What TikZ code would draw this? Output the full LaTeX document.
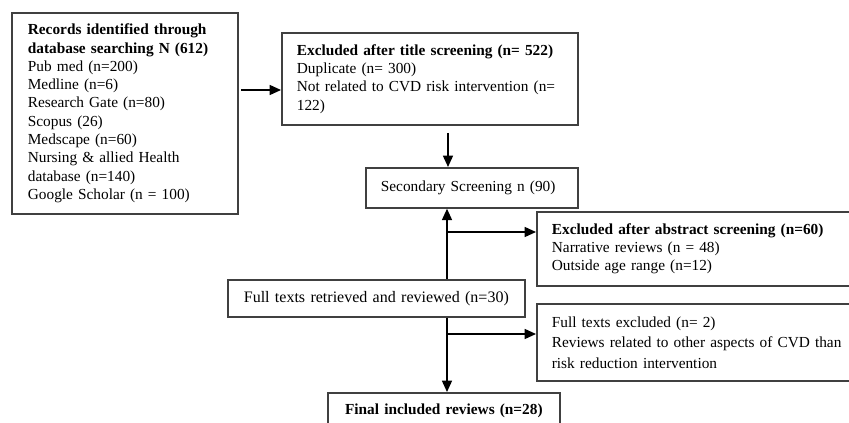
\documentclass[tikz,border=0pt]{standalone}
\usepackage{fontspec}
\setmainfont{Liberation Serif}
\usetikzlibrary{arrows.meta}
\begin{document}
\begin{tikzpicture}[
    x=0.75pt, y=-0.75pt,
    font=\fontsize{11.5}{13.7}\selectfont,
    box/.style={draw=black!75, line width=1.3pt, anchor=north west, align=left, inner ysep=0pt},
    arr/.style={line width=1.1pt, -{Triangle[length=8.5pt,width=7.5pt]}},
  ]
    \useasboundingbox (0,0) rectangle (849,423);
    \clip (0,0) rectangle (849,423);
    % search and first screening
    \node[box, text width=145.5pt, inner xsep=12pt, minimum height=150.75pt] (records) at (11,12)
      {\textbf{Records identified through}\\ \textbf{database searching N (612)}\\ Pub med (n=200)\\ Medline (n=6)\\
       Research Gate (n=80)\\ Scopus (26)\\ Medscape (n=60)\\ Nursing \& allied Health\\ database (n=140)\\
       Google Scholar (n = 100)};
    \node[box, text width=199.5pt, inner xsep=11.25pt, minimum height=69pt] (titleex) at (281,32)
      {\textbf{Excluded after title screening (n= 522)}\\ Duplicate (n= 300)\\
       Not related to CVD risk intervention (n=\\ 122)};
    \node[box, text width=136.5pt, inner xsep=11.25pt, minimum height=30pt] (second) at (365,167)
      {Secondary Screening n (90)};
    % abstract and full text screening
    \node[box, text width=228pt, inner xsep=11.25pt, minimum height=55.5pt] (absex) at (536,211)
      {\textbf{Excluded after abstract screening (n=60)}\\ Narrative reviews (n = 48)\\ Outside age range (n=12)};
    \node[box, text width=198.75pt, inner xsep=12pt, minimum height=27.75pt,
          font=\fontsize{12}{14}\selectfont] (fulltext) at (227,279)
      {Full texts retrieved and reviewed (n=30)};
    \node[box, text width=228pt, inner xsep=11.25pt, minimum height=57.75pt,
          font=\fontsize{11.5}{15.4}\selectfont] (fullex) at (536,303)
      {Full texts excluded (n= 2)\\ Reviews related to other aspects of CVD than\\ risk reduction intervention};
    \node[box, align=center, text width=162pt, inner xsep=6pt, minimum height=27pt] (final) at (327,392)
      {\textbf{Final included reviews (n=28)}};
    % connectors
    \coordinate (a1) at (241,90);
    \draw[arr] (a1) -- (a1 -| titleex.west);
    \coordinate (b1) at (448,133);
    \draw[arr] (b1) -- (b1 |- second.north);
    \coordinate (s1) at (447,0);
    \draw[arr] (s1 |- fulltext.north) -- (s1 |- second.south);
    \coordinate (j1) at (447,232);
    \draw[arr] (j1) -- (j1 -| absex.west);
    \draw[arr] (s1 |- fulltext.south) -- (s1 |- final.north);
    \coordinate (j2) at (447,334);
    \draw[arr] (j2) -- (j2 -| fullex.west);
\end{tikzpicture}
\end{document}
